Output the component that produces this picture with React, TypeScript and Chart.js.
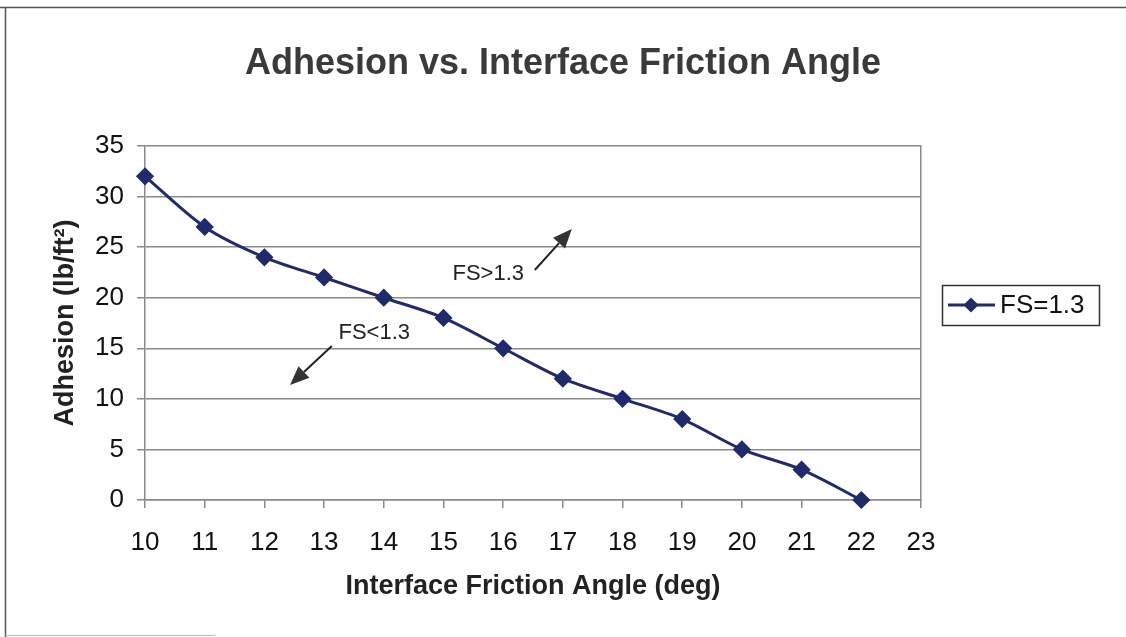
import React, { useEffect, useRef } from "react";
import { Chart, registerables } from "chart.js";

Chart.register(...registerables);

const frictionAngles = [10, 11, 12, 13, 14, 15, 16, 17, 18, 19, 20, 21, 22];
const adhesionFS13 = [32, 27, 24, 22, 20, 18, 15, 12, 10, 8, 5, 3, 0];
const seriesLabel = "FS=1.3";

const annotationTexts = ["FS>1.3", "FS<1.3"];
const annotationTextX = [15.75, 13.84];
const annotationTextY = [22.35, 16.5];
const arrowTailX = [16.53, 13.13];
const arrowTailY = [22.74, 15.23];
const arrowTipX = [17.15, 12.43];
const arrowTipY = [26.8, 11.37];

const FONT = "'Liberation Sans', Arial, sans-serif";
const LINE_COLOR = "#1f2b6b";
const GRID = "#8a8a8a";

const decorPlugin = {
  id: "decor",
  afterDraw(chart: any) {
    const { ctx, chartArea, scales } = chart;
    const xs = scales.x;
    const ys = scales.y;
    ctx.save();
    // outer frame
    ctx.strokeStyle = "#555";
    ctx.lineWidth = 1.5;
    ctx.beginPath();
    ctx.moveTo(0, 7.5);
    ctx.lineTo(chart.width, 7.5);
    ctx.moveTo(5.5, 7.5);
    ctx.lineTo(5.5, chart.height);
    ctx.stroke();
    ctx.strokeStyle = "#bbb";
    ctx.lineWidth = 1;
    ctx.beginPath();
    ctx.moveTo(5.5, 635.5);
    ctx.lineTo(215, 635.5);
    ctx.stroke();

    // annotations
    ctx.fillStyle = "#222";
    ctx.font = `22px ${FONT}`;
    ctx.textAlign = "center";
    ctx.textBaseline = "middle";
    annotationTexts.forEach((t, i) => {
      ctx.fillText(t, xs.getPixelForValue(annotationTextX[i]), ys.getPixelForValue(annotationTextY[i]));
    });
    for (let i = 0; i < arrowTailX.length; i++) {
      const x0 = xs.getPixelForValue(arrowTailX[i]);
      const y0 = ys.getPixelForValue(arrowTailY[i]);
      const x1 = xs.getPixelForValue(arrowTipX[i]);
      const y1 = ys.getPixelForValue(arrowTipY[i]);
      const ang = Math.atan2(y1 - y0, x1 - x0);
      const headLen = 19;
      const headW = 8;
      const bx = x1 - headLen * Math.cos(ang);
      const by = y1 - headLen * Math.sin(ang);
      ctx.strokeStyle = "#222";
      ctx.lineWidth = 2;
      ctx.beginPath();
      ctx.moveTo(x0, y0);
      ctx.lineTo(bx, by);
      ctx.stroke();
      ctx.fillStyle = "#333";
      ctx.beginPath();
      ctx.moveTo(x1, y1);
      ctx.lineTo(bx + headW * Math.sin(ang), by - headW * Math.cos(ang));
      ctx.lineTo(bx - headW * Math.sin(ang), by + headW * Math.cos(ang));
      ctx.closePath();
      ctx.fill();
    }

    // legend
    const lx = chartArea.right + 21;
    const ly = 285;
    const lw = 157;
    const lh = 40;
    ctx.strokeStyle = "#333";
    ctx.lineWidth = 1.5;
    ctx.strokeRect(lx + 0.5, ly + 0.5, lw, lh);
    const cy = ly + lh / 2;
    ctx.strokeStyle = LINE_COLOR;
    ctx.lineWidth = 3;
    ctx.beginPath();
    ctx.moveTo(lx + 6, cy);
    ctx.lineTo(lx + 53, cy);
    ctx.stroke();
    ctx.fillStyle = LINE_COLOR;
    const dx = lx + 29;
    const r = 7.5;
    ctx.beginPath();
    ctx.moveTo(dx, cy - r);
    ctx.lineTo(dx + r, cy);
    ctx.lineTo(dx, cy + r);
    ctx.lineTo(dx - r, cy);
    ctx.closePath();
    ctx.fill();
    ctx.fillStyle = "#111";
    ctx.font = `26px ${FONT}`;
    ctx.textAlign = "left";
    ctx.textBaseline = "middle";
    ctx.fillText(seriesLabel, lx + 58, cy + 1);
    ctx.restore();
  },
};

export default function App() {
  const ref = useRef<HTMLCanvasElement>(null);
  useEffect(() => {
    document.body.style.margin = "0";
    const chart = new Chart(ref.current!, {
      type: "line",
      data: {
        datasets: [
          {
            label: seriesLabel,
            data: frictionAngles.map((x, i) => ({ x, y: adhesionFS13[i] })),
            borderColor: LINE_COLOR,
            backgroundColor: LINE_COLOR,
            borderWidth: 3,
            pointStyle: "rectRot",
            pointRadius: 7,
            pointBackgroundColor: LINE_COLOR,
            pointBorderColor: LINE_COLOR,
            tension: 0.3,
            clip: false as any,
          },
        ],
      },
      options: {
        responsive: false,
        animation: false,
        layout: { padding: 0 },
        plugins: {
          legend: { display: false },
          tooltip: { enabled: false },
          title: {
            display: true,
            text: "Adhesion vs. Interface Friction Angle",
            color: "#3a3a3a",
            font: { family: FONT, size: 36, weight: "bold" },
            padding: { top: 42.5, bottom: 60.3 },
          },
        },
        scales: {
          x: {
            type: "linear",
            min: 10,
            max: 23,
            ticks: {
              stepSize: 1,
              color: "#111",
              font: { family: FONT, size: 26 },
              padding: 19,
            },
            grid: {
              drawOnChartArea: false,
              drawTicks: true,
              tickLength: 8,
              color: GRID,
              lineWidth: 1.5,
            },
            border: { display: true, color: GRID, width: 1.5 },
            title: {
              display: true,
              text: "Interface Friction Angle (deg)",
              color: "#222",
              font: { family: FONT, size: 27, weight: "bold" },
              padding: { top: 0, bottom: 34 },
            },
            afterFit(scale: any) {
              scale.height = 137;
            },
          },
          y: {
            type: "linear",
            min: 0,
            max: 35,
            ticks: {
              stepSize: 5,
              color: "#111",
              font: { family: FONT, size: 26 },
              padding: 13,
            },
            grid: {
              color: GRID,
              lineWidth: 1.5,
              tickLength: 8,
            },
            border: { display: true, color: GRID, width: 1.5 },
            title: {
              display: true,
              text: "Adhesion (lb/ft²)",
              color: "#222",
              font: { family: FONT, size: 27, weight: "bold" },
              padding: { top: 49, bottom: 0 },
            },
            afterFit(scale: any) {
              scale.width = 145;
            },
          },
          y2: {
            type: "linear",
            position: "right",
            min: 0,
            max: 1,
            ticks: { display: false },
            grid: { display: false },
            border: { display: true, color: GRID, width: 1.5 },
            afterFit(scale: any) {
              scale.width = 205;
            },
          },
        },
      },
      plugins: [decorPlugin],
    });
    return () => chart.destroy();
  }, []);
  return (
    <div style={{ width: 1126, height: 637, background: "#fff" }}>
      <canvas ref={ref} width={1126} height={637} />
    </div>
  );
}
